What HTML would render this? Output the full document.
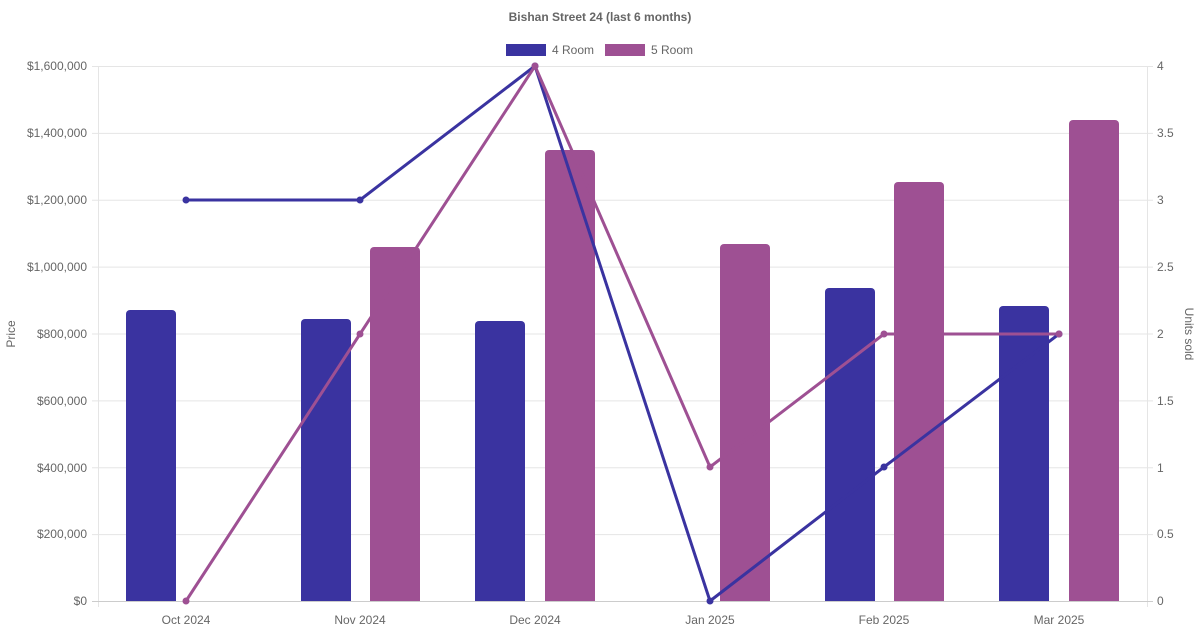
<!DOCTYPE html>
<html><head><meta charset="utf-8"><style>
html,body{margin:0;padding:0;background:#fff;}
svg{display:block;font-family:"Liberation Sans",Arial,sans-serif;}
</style></head><body>
<svg width="1200" height="630" viewBox="0 0 1200 630" xmlns="http://www.w3.org/2000/svg">
<rect width="1200" height="630" fill="#fff"/>
<text x="600" y="21" text-anchor="middle" font-size="12" font-weight="bold" fill="#666">Bishan Street 24 (last 6 months)</text>
<!-- legend -->
<rect x="506" y="44" width="40" height="12" fill="#3a33a0"/>
<text x="552" y="54" font-size="12" fill="#666">4 Room</text>
<rect x="605" y="44" width="40" height="12" fill="#9e5093"/>
<text x="651" y="54" font-size="12" fill="#666">5 Room</text>
<!-- grid -->
<g stroke="#e5e5e5" stroke-width="1">
<line x1="92" y1="66.5" x2="1153" y2="66.5"/>
<line x1="92" y1="133.4" x2="1153" y2="133.4"/>
<line x1="92" y1="200.3" x2="1153" y2="200.3"/>
<line x1="92" y1="267.1" x2="1153" y2="267.1"/>
<line x1="92" y1="334" x2="1153" y2="334"/>
<line x1="92" y1="400.9" x2="1153" y2="400.9"/>
<line x1="92" y1="467.8" x2="1153" y2="467.8"/>
<line x1="92" y1="534.6" x2="1153" y2="534.6"/>
<line x1="98.5" y1="66" x2="98.5" y2="607"/>
<line x1="1147.5" y1="66" x2="1147.5" y2="607"/>
</g>
<line x1="92" y1="601.5" x2="1153" y2="601.5" stroke="#ccc"/>
<!-- left ticks -->
<g font-size="12" fill="#666" text-anchor="end">
<text x="87" y="70">$1,600,000</text>
<text x="87" y="137">$1,400,000</text>
<text x="87" y="204">$1,200,000</text>
<text x="87" y="271">$1,000,000</text>
<text x="87" y="338">$800,000</text>
<text x="87" y="405">$600,000</text>
<text x="87" y="472">$400,000</text>
<text x="87" y="538">$200,000</text>
<text x="87" y="605">$0</text>
</g>
<g font-size="12" fill="#666" text-anchor="start">
<text x="1157" y="70">4</text>
<text x="1157" y="137">3.5</text>
<text x="1157" y="204">3</text>
<text x="1157" y="271">2.5</text>
<text x="1157" y="338">2</text>
<text x="1157" y="405">1.5</text>
<text x="1157" y="472">1</text>
<text x="1157" y="538">0.5</text>
<text x="1157" y="605">0</text>
</g>
<text transform="translate(15,334) rotate(-90)" font-size="12" fill="#666" text-anchor="middle">Price</text>
<text transform="translate(1185,334) rotate(90)" font-size="12" fill="#666" text-anchor="middle">Units sold</text>
<g font-size="12" fill="#666" text-anchor="middle">
<text x="186" y="624">Oct 2024</text>
<text x="360" y="624">Nov 2024</text>
<text x="535" y="624">Dec 2024</text>
<text x="710" y="624">Jan 2025</text>
<text x="884" y="624">Feb 2025</text>
<text x="1059" y="624">Mar 2025</text>
</g>
<!-- bars -->
<g fill="#3a33a0">
<path d="M126 601V314a4 4 0 0 1 4-4h42a4 4 0 0 1 4 4V601Z"/>
<path d="M301 601V323a4 4 0 0 1 4-4h42a4 4 0 0 1 4 4V601Z"/>
<path d="M475 601V325a4 4 0 0 1 4-4h42a4 4 0 0 1 4 4V601Z"/>
<path d="M825 601V292a4 4 0 0 1 4-4h42a4 4 0 0 1 4 4V601Z"/>
<path d="M999 601V310a4 4 0 0 1 4-4h42a4 4 0 0 1 4 4V601Z"/>
</g>
<g fill="#9e5093">
<path d="M370 601V251a4 4 0 0 1 4-4h42a4 4 0 0 1 4 4V601Z"/>
<path d="M545 601V154a4 4 0 0 1 4-4h42a4 4 0 0 1 4 4V601Z"/>
<path d="M720 601V248a4 4 0 0 1 4-4h42a4 4 0 0 1 4 4V601Z"/>
<path d="M894 601V186a4 4 0 0 1 4-4h42a4 4 0 0 1 4 4V601Z"/>
<path d="M1069 601V124a4 4 0 0 1 4-4h42a4 4 0 0 1 4 4V601Z"/>
</g>
<!-- lines -->
<polyline points="186,200 360,200 535,66 710,601 884,467 1059,334" fill="none" stroke="#3a33a0" stroke-width="3" stroke-linejoin="round"/>
<polyline points="186,601 360,334 535,66 710,467 884,334 1059,334" fill="none" stroke="#9e5093" stroke-width="3" stroke-linejoin="round"/>
<g fill="#3a33a0">
<circle cx="186" cy="200" r="3.5"/><circle cx="360" cy="200" r="3.5"/><circle cx="535" cy="66" r="3.5"/>
<circle cx="710" cy="601" r="3.5"/><circle cx="884" cy="467" r="3.5"/><circle cx="1059" cy="334" r="3.5"/>
</g>
<g fill="#9e5093">
<circle cx="186" cy="601" r="3.5"/><circle cx="360" cy="334" r="3.5"/><circle cx="535" cy="66" r="3.5"/>
<circle cx="710" cy="467" r="3.5"/><circle cx="884" cy="334" r="3.5"/><circle cx="1059" cy="334" r="3.5"/>
</g>
</svg>
</body></html>
